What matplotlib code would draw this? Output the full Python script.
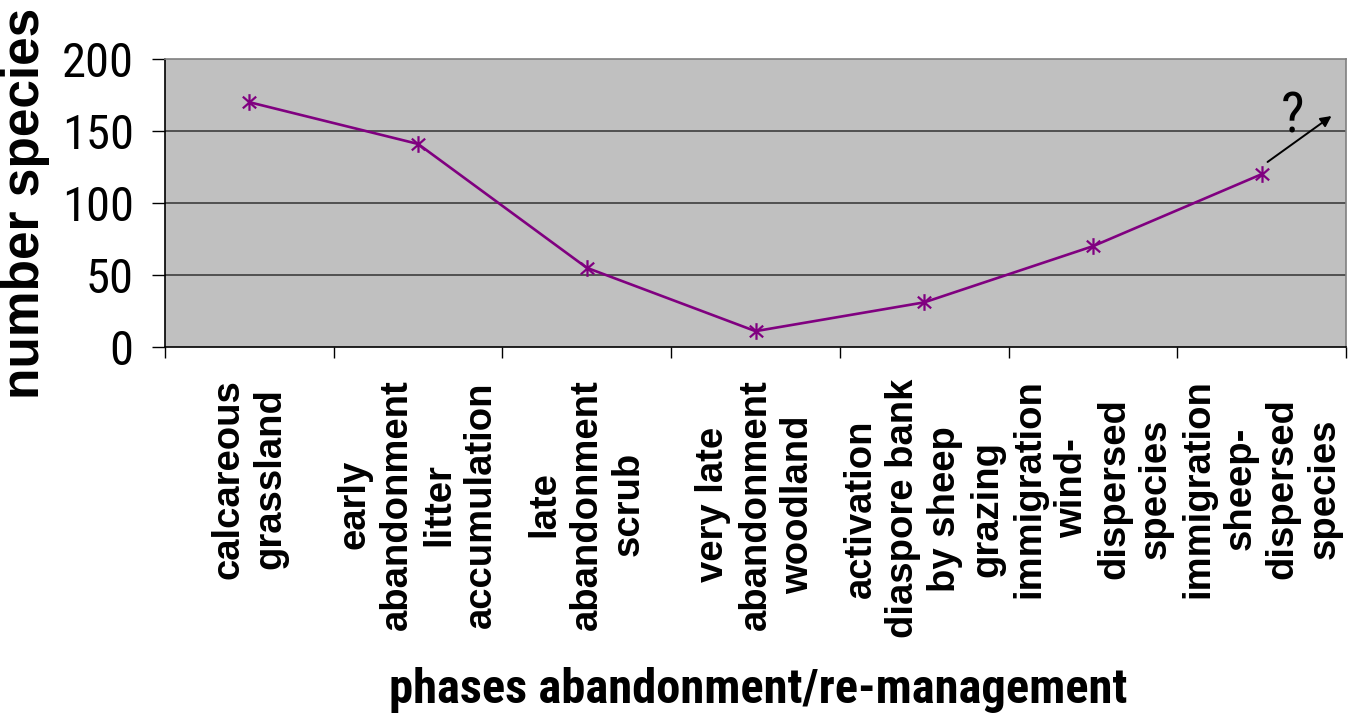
import matplotlib
matplotlib.use("Agg")
import matplotlib.pyplot as plt
from matplotlib.path import Path
from matplotlib.ticker import FixedLocator, NullFormatter

categories = [
    "calcareous\ngrassland",
    "early\nabandonment\nlitter\naccumulation",
    "late\nabandonment\nscrub",
    "very late\nabandonment\nwoodland",
    "activation\ndiaspore bank\nby sheep\ngrazing",
    "immigration\nwind-\ndispersed\nspecies",
    "immigration\nsheep-\ndispersed\nspecies",
]
species = [170, 141, 55, 11, 31, 70, 120]
yticks = [0, 50, 100, 150, 200]

# annotation of the expected continuation (data coordinates)
arrow_start = (6.035, 128.5)
arrow_end = (6.414, 160.4)
question_pos = (6.18, 163)

NARROW = ["Liberation Sans Narrow", "Arial Narrow", "Roboto Condensed",
          "Archivo Narrow", "Liberation Sans", "DejaVu Sans"]
NARROW_BOLD = ["Liberation Sans Narrow", "Arial Narrow", "Roboto Condensed",
               "Barlow Semi Condensed", "Liberation Sans", "DejaVu Sans"]
SANS = ["Liberation Sans", "DejaVu Sans"]

W, H = 1348, 726
fig = plt.figure(figsize=(W / 100, H / 100), dpi=100)
fig.patch.set_facecolor("white")
ax = fig.add_axes([165 / W, (H - 347) / H, (1346 - 165) / W, (347 - 59) / H])
ax.set_facecolor("#C0C0C0")

x = list(range(len(categories)))

star = Path(
    [(0, -1), (0, 1), (-0.8, -0.7), (0.8, 0.7), (-0.8, 0.7), (0.8, -0.7)],
    [Path.MOVETO, Path.LINETO, Path.MOVETO, Path.LINETO, Path.MOVETO, Path.LINETO],
)
ax.plot(x, species, color="#800080", lw=1.9, marker=star, markersize=12,
        markeredgewidth=1.6, markeredgecolor="#800080", zorder=3)

ax.set_xlim(-0.5, len(categories) - 0.5)
ax.set_ylim(0, 200)

for yv in yticks[1:-1]:
    ax.axhline(yv, color="#333333", lw=1.1, zorder=1)

ax.spines["top"].set_color("#808080")
ax.spines["right"].set_color("#808080")
ax.spines["left"].set_color("black")
ax.spines["bottom"].set_color("black")
for s in ax.spines.values():
    s.set_linewidth(1.2)

ax.set_yticks(yticks)
ax.set_yticklabels([str(v) for v in yticks], fontfamily=NARROW, fontsize=35)
ax.tick_params(axis="y", direction="out", length=9.5, width=1, pad=13, color="black")

ax.set_xticks(x)
ax.set_xticklabels(categories)
ax.xaxis.set_minor_locator(FixedLocator([i - 0.5 for i in range(len(categories) + 1)]))
ax.xaxis.set_minor_formatter(NullFormatter())
ax.tick_params(axis="x", which="major", length=0, pad=23)
ax.tick_params(axis="x", which="minor", direction="out", length=8, width=1, color="black")
for lab in ax.get_xticklabels():
    lab.set_rotation(90)
    lab.set_va("top")
    lab.set_ha("center")
    lab.set_multialignment("center")
    lab.set_fontfamily(SANS)
    lab.set_fontweight("bold")
    lab.set_fontsize(27.5)
    lab.set_linespacing(1.22)

ax.set_ylabel("number species", fontfamily=SANS, fontweight="bold",
              fontsize=37, va="center")
ax.yaxis.set_label_coords(-0.118, 0.5)

ax.set_xlabel("phases abandonment/re-management", fontfamily=NARROW_BOLD,
              fontweight="bold", fontsize=35, va="top")
ax.xaxis.set_label_coords(0.502, -1.11)

ax.annotate("", xy=arrow_end, xytext=arrow_start,
            arrowprops=dict(arrowstyle="-|>", color="black", lw=1.4,
                            mutation_scale=16, shrinkA=0, shrinkB=0))
ax.text(question_pos[0], question_pos[1] - 3, "?", fontfamily=NARROW, fontsize=40,
        ha="center", va="center")

fig.savefig("out.png", dpi=100)
